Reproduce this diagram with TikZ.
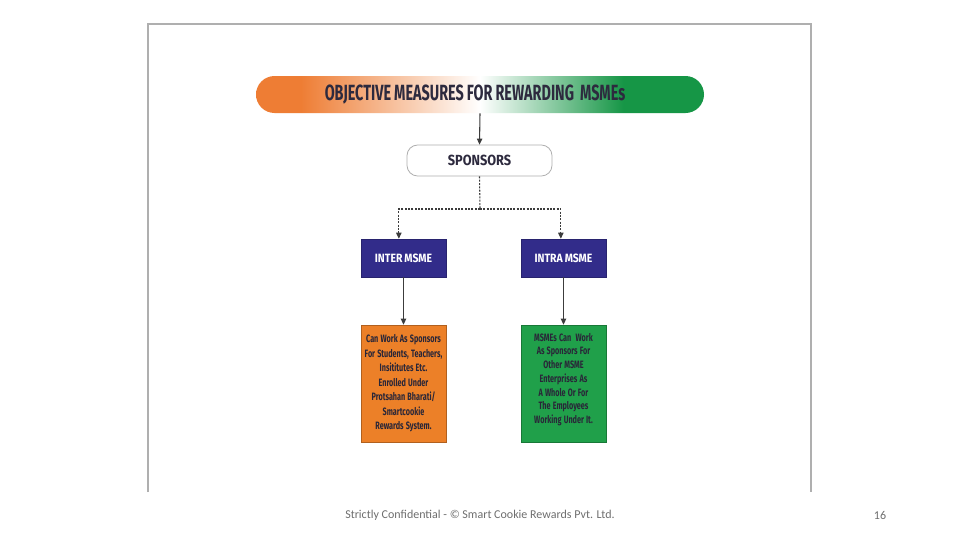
\documentclass[tikz,border=0pt]{standalone}
\usepackage{fontspec}
\setmainfont{Carlito}
\newfontfamily\condA[FakeStretch=0.655,WordSpace=0.9]{Fira Sans}
\newfontfamily\condB[FakeStretch=0.87,WordSpace=0.8]{Fira Sans}
\newfontfamily\condC[FakeStretch=0.68,WordSpace=1.25]{Fira Sans}
\usetikzlibrary{arrows.meta}
\definecolor{framec}{RGB}{175,175,175}
\definecolor{bannerorange}{RGB}{238,125,52}
\definecolor{bannergreen}{RGB}{22,150,70}
\definecolor{titletext}{RGB}{45,42,62}
\definecolor{navy}{RGB}{50,44,138}
\definecolor{boxorange}{RGB}{236,128,40}
\definecolor{boxgreen}{RGB}{32,160,74}
\definecolor{linec}{RGB}{60,60,60}
\definecolor{foot}{RGB}{110,110,110}
\pgfdeclarehorizontalshading{banner}{100bp}{color(0bp)=(bannerorange); color(30bp)=(bannerorange); color(50bp)=(white); color(66bp)=(bannergreen); color(100bp)=(bannergreen)}
\tikzset{
  bannerbox/.style={shading=banner, rounded corners=13.9pt, minimum width=336pt, minimum height=27.75pt, inner sep=0pt, text=titletext, font=\condA\bfseries\fontsize{16.5pt}{17pt}\selectfont},
  sponsorbox/.style={draw=framec, fill=white, line width=0.6pt, rounded corners=8pt, minimum width=108.75pt, minimum height=23.25pt, inner sep=0pt, text=titletext, font=\condB\bfseries\fontsize{11pt}{12pt}\selectfont},
  navybox/.style={fill=navy, draw=navy!80!black, line width=0.4pt, minimum width=63.75pt, minimum height=28.5pt, inner sep=0pt, text=white, font=\condB\bfseries\fontsize{9pt}{10pt}\selectfont},
  descbox/.style={draw=#1!75!black, line width=0.4pt, fill=#1, minimum width=63.75pt, minimum height=87.75pt, text width=62pt, inner sep=0pt, align=flush center, text=titletext!90!black},
  arrowline/.style={draw=linec, line width=0.8pt, -{Triangle[length=4.5pt,width=4pt]}},
  dashline/.style={draw=linec, line width=0.8pt, dash pattern=on 1.5pt off 1pt},
  footer/.style={text=foot, font=\fontsize{9pt}{10pt}\selectfont, inner sep=0pt}
}
\begin{document}
\begin{tikzpicture}[x=0.75pt,y=-0.75pt]
\useasboundingbox (0,0) rectangle (960,540);
\fill[white] (0,0) rectangle (960,540);
\draw[framec, line width=0.9pt] (148,492) -- (148,24) -- (811,24) -- (811,492);

\node[bannerbox] (title) at (480,94.5) {OBJECTIVE MEASURES FOR REWARDING\ \ MSMEs\hspace*{7.5pt}};
\node[sponsorbox] (sponsors) at (479.5,160.5) {SPONSORS};
\node[navybox] (inter) at (403.5,258) {INTER MSME};
\node[navybox] (intra) at (563.5,258) {INTRA MSME};
\node[descbox=boxorange, font=\condC\bfseries\fontsize{8pt}{10.9pt}\selectfont] (interdesc) at (403.5,383.5) {Can Work As Sponsors\\For Students, Teachers,\\Insititutes Etc.\\Enrolled Under\\Protsahan Bharati/\\Smartcookie\\Rewards System.};
\node[descbox=boxgreen, font=\condC\bfseries\fontsize{8pt}{10.3pt}\selectfont] (intradesc) at (563.5,383.5) {MSMEs Can\ \ Work\\As Sponsors For\\Other MSME\\Enterprises As\\A Whole Or For\\The Employees\\Working Under It.\par\vspace*{6pt}};

\coordinate (split) at (480,209);
\draw[arrowline] (title.south) -- (sponsors.north);
\draw[dashline] (sponsors.south) -- (split);
\draw[dashline, -{Triangle[length=4.5pt,width=4pt]}] (split) -| ([xshift=-3.5pt]inter.north);
\draw[dashline, -{Triangle[length=4.5pt,width=4pt]}] (split) -| ([xshift=-2pt]intra.north);
\draw[arrowline] (inter.south) -- (interdesc.north);
\draw[arrowline] (intra.south) -- (intradesc.north);

\node[footer] (conf) at (480,515) {Strictly Confidential - © Smart Cookie Rewards Pvt. Ltd.};
\node[footer] (page) at (880,515) {16};
\end{tikzpicture}
\end{document}
